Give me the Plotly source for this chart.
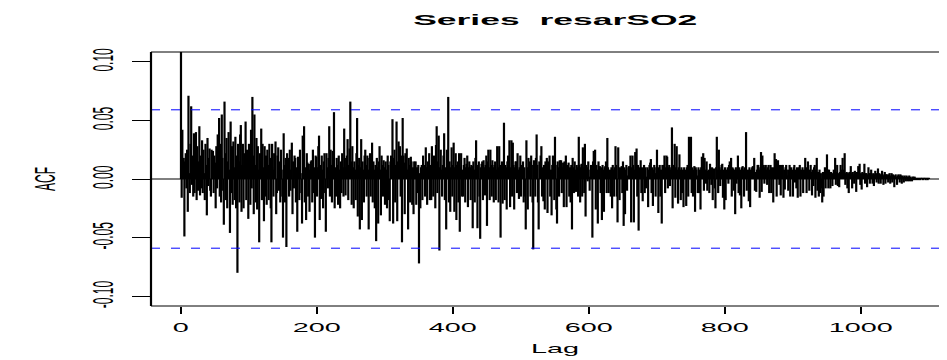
import plotly.graph_objects as go

# ACF values (in thousandths), lag 0 .. 1100
acf_000_049 = [1000,-16,42,10,18,-49,15,22,-8,25, -28,71,5,-12,30,62,-5,20,-15,39, -12,10,40,-18,28,-10,15,45,-14,20, -8,33,-12,25,5,-18,30,12,-31,35, -6,18,26,-10,-15,25,8,24,-12,20]
acf_050_099 = [14,-25,28,-8,38,10,52,-15,30,-20, 55,18,-10,-39,66,22,-18,35,-25,15, 40,8,-46,49,-12,28,-22,32,10,-18, 36,-25,20,-80,30,15,-20,38,46,-28, 12,30,-25,22,8,49,-18,25,10,-34]
acf_100_149 = [30,15,-22,42,-8,70,20,-30,55,12, -20,35,-26,28,8,-54,22,15,43,-18, 30,10,-36,28,-15,20,-22,25,12,-18, 30,18,-25,-54,30,8,-15,22,10,32, -30,-12,20,27,-10,15,-20,25,8,-15]
acf_150_199 = [-50,39,12,-20,18,-58,22,10,18,-15, 25,-10,8,31,-30,15,-8,20,18,-20, 10,-45,19,12,-18,25,5,-12,-38,37, 15,45,-20,10,-35,22,14,-15,13,-28, 8,15,16,-20,25,-12,10,-50,20,19]
acf_200_249 = [-15,10,28,37,-35,12,-17,20,8,-25, 15,22,-12,-45,22,10,-8,18,45,-15, 25,12,-20,24,8,57,-25,10,-15,18, 12,-22,20,8,-25,15,-12,22,10,-15, 43,18,-14,10,20,34,-18,12,26,66]
acf_250_299 = [15,-22,28,10,-25,15,8,-18,22,52, -32,12,18,-43,10,34,-35,15,8,-20, 20,25,12,-15,20,8,-43,18,22,-15, 10,31,-20,15,8,-25,12,-53,18,10, -38,15,28,8,-31,20,12,-15,16,10]
acf_300_349 = [-22,15,8,-25,20,12,-18,-36,15,20, 10,51,-38,18,25,-20,12,49,-36,15, 32,10,28,-15,20,-54,52,20,14,-30, 22,10,26,8,-43,18,12,-20,19,15, -22,10,-30,15,8,15,-22,10,-12,12]
acf_350_399 = [-72,5,-25,10,12,-18,20,8,12,-15, 27,10,-22,15,8,22,-18,12,-18,28, 10,-15,20,12,-25,29,45,-12,15,37, -61,10,25,8,-15,12,20,39,-18,10, -43,25,12,70,-20,15,-28,10,27,-15]
acf_400_449 = [12,31,-28,10,22,-35,12,15,-20,22, -45,10,22,-15,8,-15,12,18,-20,10, 13,20,-24,10,15,10,-18,12,11,-42, 15,8,-20,18,33,10,-42,12,15,-15, -51,10,13,15,-18,16,10,-14,12,20]
acf_450_499 = [-40,15,25,10,-18,25,12,-15,16,10, -20,12,15,-18,8,28,10,-20,28,12, -50,10,15,-21,8,48,-18,12,10,-26, 15,20,8,33,-24,10,33,-15,31,12, -26,10,15,15,-12,22,8,-17,10,20]
acf_500_549 = [-15,12,9,15,-20,10,-15,-43,33,10, -26,18,10,15,-15,20,12,-20,-60,16, 10,-15,18,38,12,-20,-43,15,10,20, 28,-15,10,-19,12,-26,15,10,18,-29, 15,10,20,-15,8,-31,12,20,10,-18]
acf_550_599 = [36,12,-26,-38,15,10,-15,16,8,16, -12,10,14,-24,15,10,20,-24,12,8, 14,-15,10,-20,12,-43,18,10,-12,15, 8,-11,12,10,-15,36,12,-20,10,13, -15,27,10,-12,30,-32,12,10,-2,15]
acf_600_649 = [2,-10,8,12,10,-50,15,24,10,25, -26,12,8,-38,15,10,11,-12,10,-35, 12,8,-28,10,11,15,-12,35,10,-12, 5,8,-15,10,-25,12,8,-15,10,28, 12,-15,-37,27,10,-18,8,10,11,-12]
acf_650_699 = [15,-40,10,-30,8,12,-10,3,10,11, 8,20,-37,10,20,12,-37,8,23,10, 26,-15,12,-44,10,8,16,-12,10,-19, 8,12,-12,10,-8,2,10,-24,8,12, 14,17,-12,10,-23,8,12,5,-15,10]
acf_700_749 = [25,8,-29,10,12,-15,8,-38,12,10, 12,20,-12,10,20,19,-8,10,12,-6, 8,10,44,-25,12,8,30,-16,10,28, 8,-21,10,21,8,-18,10,-12,8,-24, 10,7,8,-23,10,12,-15,36,10,8]
acf_750_799 = [36,-12,10,-15,8,11,-28,10,8,3, -12,10,-12,8,-26,10,19,8,22,-10, 18,8,-4,15,-10,7,8,-12,13,8, -5,10,-18,8,9,-8,-25,10,36,8, -12,25,10,-6,8,12,13,-16,8,-26]
acf_800_849 = [10,-18,8,6,10,-4,12,15,8,18, -15,10,9,-10,8,-30,10,-4,8,20, -12,10,-14,8,-25,10,11,8,-15,10, 8,40,-10,3,8,-19,10,-24,8,3, 10,11,8,18,-10,6,-11,8,12,12]
acf_850_899 = [8,-16,10,23,-11,20,8,12,-4,10, 12,8,-5,10,12,-12,8,12,-12,10, 8,-20,10,22,8,17,-15,10,16,8, -5,12,-14,8,12,12,-16,8,-9,10, 12,8,3,-10,8,12,-15,10,7,8]
acf_900_949 = [-15,10,12,-3,8,-8,10,-16,8,10, 12,-15,8,7,10,-12,8,7,18,10, -12,8,15,6,-10,8,12,6,-14,8, -6,10,12,-16,8,18,-10,6,-15,8, -12,5,-8,-20,6,-15,5,10,-8,6]
acf_950_999 = [21,8,-8,8,5,-8,6,3,-6,5, 8,6,18,-5,6,12,-6,5,-7,6, 12,5,8,18,6,8,22,-5,5,6, -8,5,-12,6,6,11,5,-8,6,4, -4,7,5,-11,6,5,11,4,13,-5]
acf_1000_1049 = [5,-9,6,4,5,13,-4,5,5,-7, 4,10,5,-4,5,8,4,-4,5,-6, 4,7,5,-3,4,9,-4,5,4,-4, 4,7,4,-5,3,6,-4,4,4,3, -3,4,5,-4,3,5,-3,4,3,-7]
acf_1050_1100 = [3,4,2,-5,3,4,3,-3,4,3, -4,3,2,-3,3,2,-2,3,2,-2, 2,3,-2,2,1,-2,2,2,-1,2, 1,-1,1,1,-1,1,1,-1,1,1, 1,-1,1,1,1,-1,1,1,-1,1, 1]

conf_limit = 0.059          # 1.96/sqrt(n)
x_ticks = [0, 200, 400, 600, 800, 1000]
y_ticks = [-0.10, -0.05, 0.0, 0.05, 0.10]
y_tick_labels = ["-0.10", "-0.05", "0.00", "0.05", "0.10"]
title_text = "Series\u00a0 resarSO2"

parts = [acf_000_049, acf_050_099, acf_100_149, acf_150_199, acf_200_249, acf_250_299,
         acf_300_349, acf_350_399, acf_400_449, acf_450_499, acf_500_549, acf_550_599,
         acf_600_649, acf_650_699, acf_700_749, acf_750_799, acf_800_849, acf_850_899,
         acf_900_949, acf_950_999, acf_1000_1049, acf_1050_1100]
acf = [v / 1000.0 for p in parts for v in p]
lags = list(range(len(acf)))

xs, ys = [], []
for lag, v in zip(lags, acf):
    xs += [lag, lag, None]
    ys += [0, v, None]

fig = go.Figure()
fig.add_trace(go.Scatter(x=xs, y=ys, mode="lines",
                         line=dict(color="black", width=2.2),
                         hoverinfo="skip", showlegend=False))

FONT = "Liberation Sans, Arial, Helvetica, sans-serif"
DASH = "9px,11px"

shapes = [
    dict(type="line", xref="paper", yref="y", x0=0, x1=1.05, y0=0, y1=0,
         line=dict(color="black", width=1)),
    dict(type="line", xref="paper", yref="y", x0=0, x1=1.05, y0=conf_limit, y1=conf_limit,
         line=dict(color="blue", width=1, dash=DASH)),
    dict(type="line", xref="paper", yref="y", x0=0, x1=1.05, y0=-conf_limit, y1=-conf_limit,
         line=dict(color="blue", width=1, dash=DASH)),
    # box: top / bottom thin, left edge wide (horizontally stretched device)
    dict(type="line", xref="paper", yref="paper", x0=0, x1=1.05, y0=1, y1=1,
         line=dict(color="black", width=1)),
    dict(type="line", xref="paper", yref="paper", x0=0, x1=1.05, y0=0, y1=0,
         line=dict(color="black", width=1)),
    dict(type="line", xref="paper", yref="paper", x0=0, x1=0, y0=0, y1=1,
         line=dict(color="black", width=2.2)),
]

fig.update_layout(
    width=947, height=360,
    margin=dict(l=143, r=8, t=44, b=62),
    paper_bgcolor="white", plot_bgcolor="white",
    font=dict(family=FONT, color="black"),
    showlegend=False,
    shapes=shapes,
    xaxis=dict(range=[-44.1, 1126.5], tickvals=x_ticks, ticks="outside", ticklen=7,
               tickwidth=2.2, tickcolor="black", showgrid=False, zeroline=False,
               showline=False, ticklabelstandoff=4,
               tickfont=dict(size=12, family=FONT)),
    yaxis=dict(range=[-0.1083, 0.1083], tickvals=y_ticks, ticktext=y_tick_labels,
               tickangle=-90, ticks="outside", ticklen=18, tickwidth=1,
               tickcolor="black", showgrid=False, zeroline=False, showline=False,
               ticklabelstandoff=20,
               tickfont=dict(size=12, family=FONT)),
    annotations=[
        dict(text="<b>" + title_text + "</b>", xref="paper", yref="paper",
             x=0.5075, y=(306 - 20) / 254, xanchor="center", yanchor="middle",
             showarrow=False, font=dict(size=14.8, family=FONT)),
        dict(text="Lag", xref="paper", yref="paper", x=0.5075, y=(306 - 349) / 254,
             xanchor="center", yanchor="middle", showarrow=False,
             font=dict(size=12, family=FONT)),
        dict(text="ACF", xref="paper", yref="paper", x=(45 - 151) / 796, y=0.5,
             xanchor="center", yanchor="middle", textangle=-90, showarrow=False,
             font=dict(size=12, family=FONT)),
    ],
)

# The reference device is stretched horizontally; widen every text about its
# on-screen centre (works for rotated parents too).
stretch_js = """
var gd = document.getElementById('{plot_id}');
var SX = 2.4;
gd.querySelectorAll('svg text').forEach(function(t){
  var r = t.getBoundingClientRect();
  if (!r || r.width === 0) { return; }
  var pm = t.parentNode.getScreenCTM();
  if (!pm) { return; }
  var M = new DOMMatrix([pm.a, pm.b, pm.c, pm.d, pm.e, pm.f]);
  var cxs = r.left + r.width / 2;
  var S = new DOMMatrix().translate(cxs, 0).scale(SX, 1).translate(-cxs, 0);
  var K = M.inverse().multiply(S).multiply(M);
  var tr = t.getAttribute('transform') || '';
  t.setAttribute('transform', 'matrix(' + [K.a, K.b, K.c, K.d, K.e, K.f].join(',') + ') ' + tr);
});
"""

fig.write_html("out.html", post_script=stretch_js)
